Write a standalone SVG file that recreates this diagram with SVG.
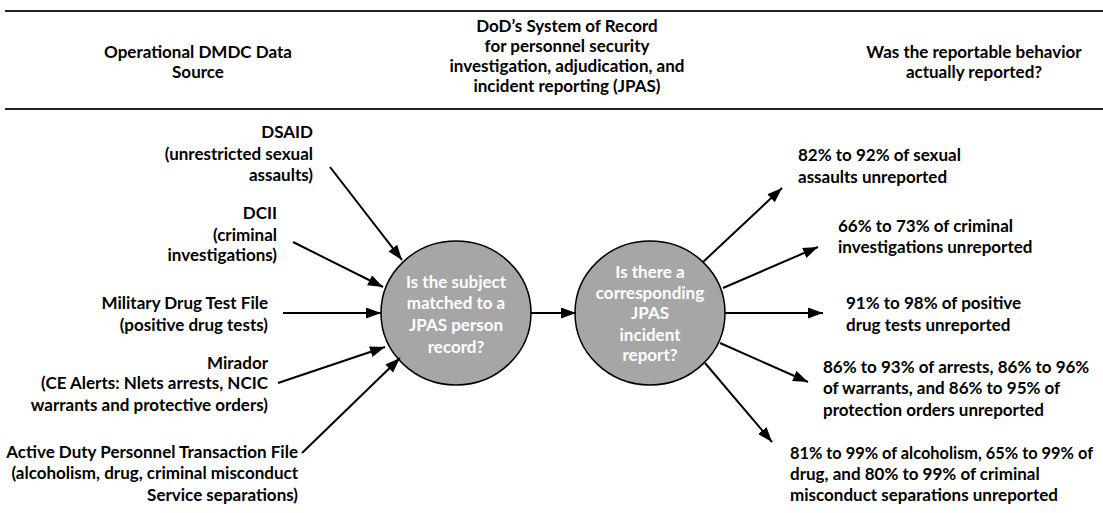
<svg xmlns="http://www.w3.org/2000/svg" width="1103" height="513" viewBox="0 0 1103 513">
<defs>
<style>
text{font-family:Lato,"Liberation Sans",sans-serif;font-weight:bold;font-size:17px;fill:#000}
.hd{text-anchor:middle}
.l{text-anchor:end}
.c{text-anchor:middle;fill:#fff}
.rule{stroke:#222;stroke-width:2}
.node{fill:#a6a6a6;stroke:#000;stroke-width:1.5}
.arr{stroke:#000;stroke-width:2;fill:none;marker-end:url(#ah)}
</style>
<marker id="ah" markerUnits="userSpaceOnUse" markerWidth="16" markerHeight="12" refX="15" refY="5.5" orient="auto">
<path d="M0,0 L15,5.5 L0,11 Z" fill="#000"/>
</marker>
</defs>
<rect width="1103" height="513" fill="#fff"/>
<g id="header">
<line class="rule" x1="5" y1="11" x2="1103" y2="11"/>
<line class="rule" x1="5" y1="109" x2="1103" y2="109"/>
<text class="hd" x="198" y="58">Operational DMDC Data</text>
<text class="hd" x="198" y="78">Source</text>
<text class="hd" x="567" y="32">DoD’s System of Record</text>
<text class="hd" x="567" y="52">for personnel security</text>
<text class="hd" x="567" y="72">investigation, adjudication, and</text>
<text class="hd" x="567" y="92">incident reporting (JPAS)</text>
<text class="hd" x="974" y="58">Was the reportable behavior</text>
<text class="hd" x="974" y="78">actually reported?</text>
</g>
<g id="src-dsaid">
<text class="l" x="313" y="138">DSAID</text>
<text class="l" x="313" y="160">(unrestricted sexual</text>
<text class="l" x="313" y="181">assaults)</text>
</g>
<g id="src-dcii">
<text class="l" x="277" y="219">DCII</text>
<text class="l" x="277" y="241">(criminal</text>
<text class="l" x="277" y="261">investigations)</text>
</g>
<g id="src-drug">
<text class="l" x="268" y="309">Military Drug Test File</text>
<text class="l" x="268" y="331">(positive drug tests)</text>
</g>
<g id="src-mirador">
<text class="l" x="268" y="369">Mirador</text>
<text class="l" x="268" y="389">(CE Alerts: Nlets arrests, NCIC</text>
<text class="l" x="268" y="411">warrants and protective orders)</text>
</g>
<g id="src-adptf">
<text class="l" x="298" y="458">Active Duty Personnel Transaction File</text>
<text class="l" x="298" y="479">(alcoholism, drug, criminal misconduct</text>
<text class="l" x="298" y="501">Service separations)</text>
</g>
<g id="node-match">
<ellipse class="node" cx="456" cy="313" rx="75" ry="72"/>
<text class="c" x="456" y="288">Is the subject</text>
<text class="c" x="456" y="309">matched to a</text>
<text class="c" x="456" y="331">JPAS person</text>
<text class="c" x="456" y="353">record?</text>
</g>
<g id="node-report">
<ellipse class="node" cx="650" cy="313" rx="75" ry="72"/>
<text class="c" x="650" y="278">Is there a</text>
<text class="c" x="650" y="299">corresponding</text>
<text class="c" x="650" y="319">JPAS</text>
<text class="c" x="650" y="341">incident</text>
<text class="c" x="650" y="361">report?</text>
</g>
<g id="res-sexual">
<text x="798" y="161">82% to 92% of sexual</text>
<text x="798" y="183">assaults unreported</text>
</g>
<g id="res-criminal">
<text x="838" y="232">66% to 73% of criminal</text>
<text x="838" y="253">investigations unreported</text>
</g>
<g id="res-drug">
<text x="846" y="309">91% to 98% of positive</text>
<text x="846" y="331">drug tests unreported</text>
</g>
<g id="res-arrests">
<text x="823" y="373">86% to 93% of arrests, 86% to 96%</text>
<text x="823" y="394">of warrants, and 86% to 95% of</text>
<text x="823" y="416">protection orders unreported</text>
</g>
<g id="res-separations">
<text x="790" y="459" textLength="303" lengthAdjust="spacingAndGlyphs">81% to 99% of alcoholism, 65% to 99% of</text>
<text x="790" y="480">drug, and 80% to 99% of criminal</text>
<text x="790" y="501">misconduct separations unreported</text>
</g>
<g id="connectors">
<line class="arr" x1="330" y1="167" x2="402" y2="260"/>
<line class="arr" x1="293" y1="242" x2="383" y2="287"/>
<line class="arr" x1="283" y1="313" x2="381" y2="313"/>
<line class="arr" x1="278" y1="383" x2="385" y2="347"/>
<line class="arr" x1="302" y1="453" x2="400" y2="358"/>
<line class="arr" x1="531" y1="313" x2="576" y2="313"/>
<line class="arr" x1="703" y1="262" x2="782" y2="188"/>
<line class="arr" x1="723" y1="288" x2="818" y2="247"/>
<line class="arr" x1="725" y1="313" x2="823" y2="313"/>
<line class="arr" x1="720" y1="343" x2="808" y2="382"/>
<line class="arr" x1="705" y1="363" x2="772" y2="442"/>
</g>
</svg>
